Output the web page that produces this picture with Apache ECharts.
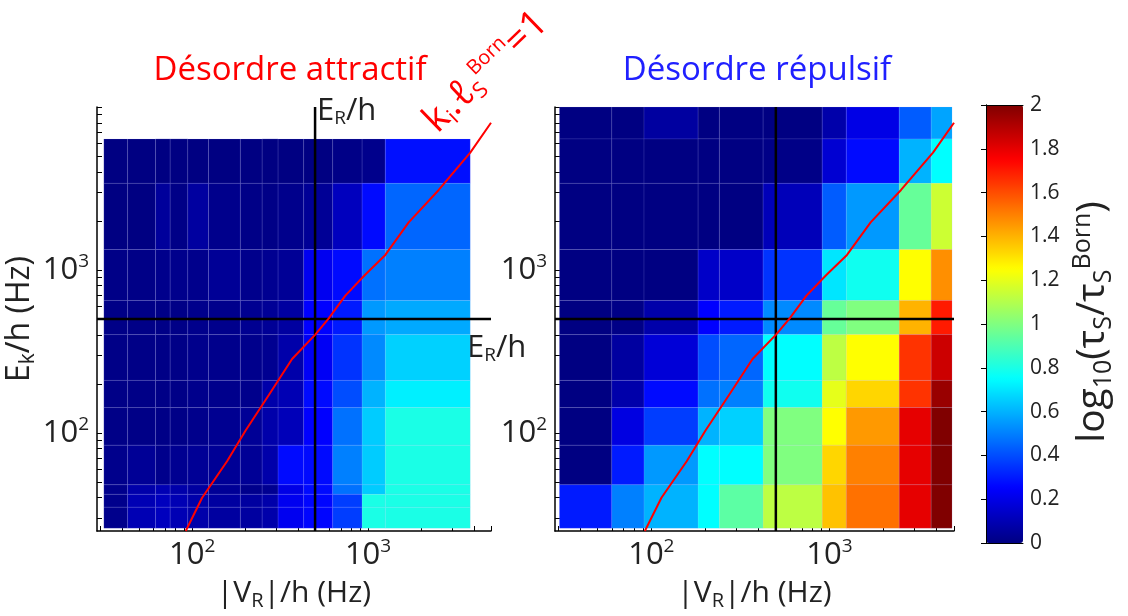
<!DOCTYPE html>
<html>
<head>
<meta charset="utf-8">
<script src="https://cdn.jsdelivr.net/npm/echarts@6/dist/echarts.min.js"></script>
<style>html,body{margin:0;padding:0;background:#fff}#c{width:1128px;height:616px}</style>
</head>
<body>
<div id="c"></div>
<script>
// ---------- data ----------
// left panel (attractive disorder): cell edges (Hz) and values (rows listed top -> bottom)
const leftXEdges = [31.5, 43, 62, 75, 94.5, 124, 188, 250, 308, 431, 630, 925, 1253, 3810];
const leftYEdges = [26, 35, 42, 48, 84, 143, 210, 401, 650, 1335, 3400, 6370];
const leftValues = [
  [0.00,0.00,0.00,0.00,0.00,0.00,0.00,0.00,0.00,0.00,0.01,0.02,0.28],
  [0.00,0.00,0.05,0.01,0.06,0.02,0.01,0.01,0.02,0.04,0.12,0.27,0.45],
  [0.01,0.01,0.02,0.02,0.02,0.04,0.02,0.03,0.04,0.22,0.27,0.47,0.50],
  [0.01,0.01,0.01,0.01,0.02,0.02,0.03,0.04,0.06,0.25,0.30,0.55,0.58],
  [0.01,0.01,0.01,0.01,0.02,0.02,0.02,0.03,0.08,0.23,0.35,0.52,0.66],
  [0.01,0.01,0.01,0.01,0.02,0.02,0.02,0.08,0.10,0.27,0.40,0.60,0.72],
  [0.01,0.01,0.01,0.01,0.02,0.03,0.04,0.08,0.11,0.25,0.47,0.65,0.80],
  [0.02,0.04,0.02,0.03,0.04,0.04,0.04,0.08,0.27,0.27,0.50,0.65,0.80],
  [0.02,0.08,0.10,0.08,0.06,0.04,0.02,0.03,0.20,0.27,0.47,0.65,0.80],
  [0.02,0.10,0.12,0.10,0.08,0.06,0.06,0.08,0.22,0.26,0.37,0.80,0.80],
  [0.02,0.10,0.12,0.10,0.08,0.06,0.06,0.08,0.22,0.26,0.37,0.80,0.80]
];
// right panel (repulsive disorder)
const rightXEdges = [30.5, 60, 91, 183, 241, 424, 910, 1242, 2462, 3721, 4875];
const rightYEdges = [26, 48, 84, 143, 210, 401, 650, 1335, 3400, 6370, 10000];
const rightValues = [
  [0.00,0.00,0.06,0.00,0.00,0.00,0.08,0.20,0.43,0.57],
  [0.00,0.00,0.00,0.00,0.00,0.01,0.16,0.27,0.60,0.75],
  [0.00,0.00,0.00,0.00,0.00,0.11,0.43,0.55,0.95,1.15],
  [0.00,0.00,0.00,0.14,0.14,0.35,0.70,0.78,1.25,1.47],
  [0.00,0.01,0.08,0.25,0.30,0.52,0.95,1.00,1.40,1.70],
  [0.00,0.06,0.17,0.40,0.45,0.75,1.12,1.25,1.65,1.85],
  [0.00,0.08,0.27,0.47,0.50,0.78,1.20,1.33,1.65,1.95],
  [0.00,0.19,0.37,0.60,0.66,1.00,1.25,1.45,1.80,2.00],
  [0.00,0.30,0.55,0.75,0.75,1.00,1.33,1.50,1.80,2.00],
  [0.30,0.50,0.60,0.75,0.93,1.12,1.37,1.53,1.80,2.00]
];
// k_i * l_S^Born = 1 curve: [|V_R|/h, E_k/h]
const bornCurve = [[92,25],[114,40],[158,67],[201,103],[273,171],[370,284],[501,401],[598,504],
  [743,696],[966,937],[1254,1236],[1702,1959],[2522,3097],[3811,5250],[5000,8000]];
const ER = 500; // E_R/h (Hz)
const xRange = [28.8, 5000];
const yRange = [25, 10000];
const xTickValues = [30,40,50,60,70,80,90,100,200,300,400,500,600,700,800,900,1000,2000,3000,4000,5000];
const yTickValues = [30,40,50,60,70,80,90,100,200,300,400,500,600,700,800,900,1000,2000,3000,4000,5000,6000,7000,8000,9000,10000];
const majorTickValues = [100, 1000];
const cbarTicks = {min: 0, max: 2, interval: 0.2};
const titles = ['Désordre attractif', 'Désordre répulsif'];

// ---------- helpers ----------
const FONT = '"Open Sans", "Noto Sans", "DejaVu Sans", sans-serif';
const JET = ['#000082','#0000ff','#0080ff','#00ffff','#80ff80','#ffff00','#ff8000','#ff0000','#800000'];

function buildCells(xe, ye, rowsTopDown) {
  const out = [];
  const nR = ye.length - 1;
  rowsTopDown.forEach((row, r) => {
    const yi = nR - 1 - r;
    row.forEach((v, c) => out.push([xe[c], xe[c + 1], ye[yi], ye[yi + 1], v]));
  });
  return out;
}
function renderCell(params, api) {
  const p0 = api.coord([api.value(0), api.value(3)]);
  const p1 = api.coord([api.value(1), api.value(2)]);
  return {
    type: 'rect',
    shape: {x: p0[0], y: p0[1], width: p1[0] - p0[0], height: p1[1] - p0[1]},
    style: {fill: api.visual('color'), stroke: 'rgba(170,170,255,0.13)', lineWidth: 1}
  };
}
const powRich = {
  b: {fontSize: 31, fontFamily: FONT, color: '#222', lineHeight: 36},
  s: {fontSize: 19, fontFamily: FONT, color: '#222', lineHeight: 18, verticalAlign: 'top'}
};
const powLabel = v => '{b|10}{s|' + Math.round(Math.log10(v)) + '}';
const nameRich = {
  m: {fontSize: 30, fontFamily: FONT, color: '#222', lineHeight: 36},
  sub: {fontSize: 20, fontFamily: FONT, color: '#222', lineHeight: 14, verticalAlign: 'bottom'}
};

function mainXAxis(i) {
  return {
    gridIndex: i, type: 'log', logBase: 10, min: xRange[0], max: xRange[1],
    axisLine: {show: true, onZero: false, lineStyle: {color: '#000', width: 1.5}},
    axisTick: {show: true, inside: true, length: 5, customValues: xTickValues, lineStyle: {color: '#000', width: 1}},
    axisLabel: {customValues: majorTickValues, formatter: powLabel, rich: powRich, margin: 6},
    splitLine: {show: false}, minorTick: {show: false},
    name: '{m||V}{sub|R}{m||/h (Hz)}', nameLocation: 'middle', nameGap: 44,
    nameTextStyle: {rich: nameRich}
  };
}
function mainYAxis(i, withName) {
  const ax = {
    gridIndex: i, type: 'log', logBase: 10, min: yRange[0], max: yRange[1],
    axisLine: {show: true, onZero: false, lineStyle: {color: '#000', width: 1.5}},
    axisTick: {show: true, inside: true, length: 5, customValues: yTickValues, lineStyle: {color: '#000', width: 1}},
    axisLabel: {customValues: majorTickValues, formatter: powLabel, rich: powRich, margin: 8},
    splitLine: {show: false}, minorTick: {show: false}
  };
  if (withName) {
    ax.name = '{m|E}{sub|k}{m|/h (Hz)}';
    ax.nameLocation = 'middle';
    ax.nameGap = 56;
    ax.nameTextStyle = {rich: {
      m: {fontSize: 32, fontFamily: FONT, color: '#222', lineHeight: 38},
      sub: {fontSize: 21, fontFamily: FONT, color: '#222', lineHeight: 14, verticalAlign: 'bottom'}
    }};
  }
  return ax;
}
function frameAxis(grid, pos, isX) {
  return {
    gridIndex: grid, type: 'value', min: 0, max: isX ? 1 : 2, position: pos, z: 10,
    axisLine: {show: true, onZero: false, lineStyle: {color: '#000', width: 1}},
    axisTick: {show: false}, axisLabel: {show: false}, splitLine: {show: false}
  };
}

const chart = echarts.init(document.getElementById('c'), null, {renderer: 'canvas'});
const option = {
  animation: false,
  backgroundColor: '#fff',
  grid: [
    {left: 97, top: 107, width: 394, height: 433},
    {left: 555, top: 107, width: 399, height: 433},
    {left: 986, top: 105, width: 37, height: 438}
  ],
  xAxis: [mainXAxis(0), mainXAxis(1), frameAxis(2, 'bottom', true), frameAxis(2, 'top', true)],
  yAxis: [mainYAxis(0, true), mainYAxis(1, false),
    {
      gridIndex: 2, type: 'value', min: cbarTicks.min, max: cbarTicks.max, interval: cbarTicks.interval,
      position: 'right', z: 10,
      axisLine: {show: true, lineStyle: {color: '#000', width: 1}},
      axisTick: {show: true, inside: true, length: 5, lineStyle: {color: '#000', width: 1}},
      axisLabel: {fontSize: 21, fontFamily: FONT, color: '#222', margin: 7},
      splitLine: {show: false}
    },
    frameAxis(2, 'left', false)
  ],
  visualMap: {
    type: 'continuous', min: 0, max: 2, dimension: 4, seriesIndex: [0, 1],
    calculable: false, show: true, left: 986, top: 105, itemWidth: 37, itemHeight: 438,
    padding: 0, text: null, hoverLink: false, inRange: {color: JET}
  },
  series: [
    {type: 'custom', xAxisIndex: 0, yAxisIndex: 0, renderItem: renderCell,
      encode: {x: [0, 1], y: [2, 3]}, data: buildCells(leftXEdges, leftYEdges, leftValues), z: 1},
    {type: 'custom', xAxisIndex: 1, yAxisIndex: 1, renderItem: renderCell,
      encode: {x: [0, 1], y: [2, 3]}, data: buildCells(rightXEdges, rightYEdges, rightValues), z: 1},
  ]
};
[0, 1].forEach(i => {
  option.series.push({type: 'line', xAxisIndex: i, yAxisIndex: i, symbol: 'none', silent: true, z: 3,
    lineStyle: {color: '#000', width: 2.5}, data: [[ER, yRange[0]], [ER, yRange[1]]]});
  option.series.push({type: 'line', xAxisIndex: i, yAxisIndex: i, symbol: 'none', silent: true, z: 3,
    lineStyle: {color: '#000', width: 2.5}, data: [[xRange[0], ER], [xRange[1], ER]]});
  option.series.push({type: 'line', xAxisIndex: i, yAxisIndex: i, symbol: 'none', silent: true, z: 4,
    lineStyle: {color: '#ff0000', width: 2}, data: bornCurve});
});
const erRich = {
  a: {fontSize: 31, fontFamily: FONT, fill: '#222', lineHeight: 34},
  r: {fontSize: 19, fontFamily: FONT, fill: '#222', lineHeight: 14, verticalAlign: 'bottom'}
};
option.graphic = [
  {type: 'text', x: 290, y: 71, style: {text: titles[0], fill: '#ff0000', fontSize: 33, fontFamily: FONT, align: 'center', verticalAlign: 'middle'}},
  {type: 'text', x: 757, y: 71, style: {text: titles[1], fill: '#2020ff', fontSize: 33, fontFamily: FONT, align: 'center', verticalAlign: 'middle'}},
  {type: 'text', x: 317, y: 111, style: {text: '{a|E}{r|R}{a|/h}', rich: erRich, align: 'left', verticalAlign: 'middle'}},
  {type: 'text', x: 467, y: 348, style: {text: '{a|E}{r|R}{a|/h}', rich: erRich, align: 'left', verticalAlign: 'middle'}},
  {type: 'text', x: 486, y: 72, rotation: 0.77, style: {
    text: '{k|k}{i|i}{k|.ℓ}{i|S}{p|Born}{k|=1}', align: 'center', verticalAlign: 'middle',
    rich: {
      k: {fontSize: 38, fontFamily: FONT, fill: '#ff0000', lineHeight: 42},
      i: {fontSize: 22, fontFamily: FONT, fill: '#ff0000', lineHeight: 16, verticalAlign: 'bottom'},
      p: {fontSize: 20, fontFamily: FONT, fill: '#ff0000', lineHeight: 18, verticalAlign: 'top'}
    }}},
  {type: 'text', x: 1093, y: 322, rotation: Math.PI / 2, style: {
    text: '{a|log}{s|10}{a|(τ}{s|S}{a|/τ}{s|S}{p|Born}{a|)}', align: 'center', verticalAlign: 'middle',
    rich: {
      a: {fontSize: 39, fontFamily: FONT, fill: '#222', lineHeight: 46},
      s: {fontSize: 25, fontFamily: FONT, fill: '#222', lineHeight: 18, verticalAlign: 'bottom'},
      p: {fontSize: 25, fontFamily: FONT, fill: '#222', lineHeight: 20, verticalAlign: 'top'}
    }}}
];
chart.setOption(option);
</script>
</body>
</html>
